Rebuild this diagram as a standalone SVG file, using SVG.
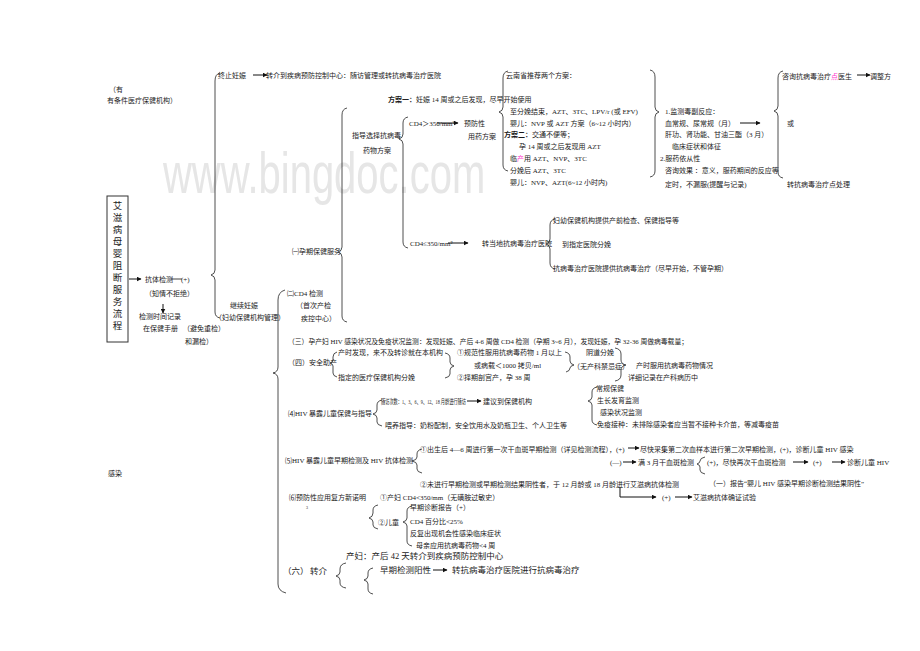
<svg xmlns="http://www.w3.org/2000/svg" width="920" height="651" viewBox="0 0 920 651">
<defs>
<marker id="ah" viewBox="0 0 10 10" refX="9" refY="5" markerWidth="5" markerHeight="5" orient="auto" markerUnits="userSpaceOnUse"><path d="M0,0 L10,5 L0,10 z" fill="#111"/></marker>
</defs>
<style>
text{font-family:"Liberation Serif","Noto Sans CJK SC",serif;font-size:7px;fill:#1a1a1a}
.b{font-weight:bold}
.m{font-size:8.5px}
.v{font-size:9.5px;text-anchor:middle}
.wm{font-family:"Liberation Sans",Arial,sans-serif;font-size:40px;fill:#e6e6e6}
.br{fill:none;stroke:#222;stroke-width:0.8}
.ar{fill:none;stroke:#111;stroke-width:1;marker-end:url(#ah)}
.pk{fill:#ff33cc}
</style>
<rect width="920" height="651" fill="#fff"/>
<text class="wm" transform="translate(163,193) scale(1,1.45)">www.bingdoc.com</text>

<g id="note-top"><text x="109" y="91.5">（有</text><text x="107" y="102.5">有条件医疗保健机构）</text></g>
<g id="note-gr"><text x="108" y="476">感染</text></g>

<g id="main-box">
<rect x="107" y="196" width="21" height="146" fill="none" stroke="#333" stroke-width="1"/>
<text class="v" x="117.5" y="208.5">艾</text><text class="v" x="117.5" y="220.5">滋</text><text class="v" x="117.5" y="232.5">病</text><text class="v" x="117.5" y="244.5">母</text><text class="v" x="117.5" y="256.5">婴</text><text class="v" x="117.5" y="268.5">阻</text><text class="v" x="117.5" y="280.5">断</text><text class="v" x="117.5" y="292.5">服</text><text class="v" x="117.5" y="304.5">务</text><text class="v" x="117.5" y="316.5">流</text><text class="v" x="117.5" y="328.5">程</text>
</g>

<g id="antibody">
<text x="145" y="281.5">抗体检测</text><text x="181" y="281.5">(+)</text>
<text x="145" y="295.5">（知情不拒绝）</text>
<text x="139" y="318.5">检测时间记录</text>
<text x="143" y="330.5">在保健手册</text><text x="183" y="330.5">（避免重检）</text>
<text x="185" y="343.5">和漏检）</text>
</g>

<g id="terminate">
<text x="218" y="77.5">终止妊娠</text>
<text x="266" y="77.5">转介到疾病预防控制中心：随访管理或转抗病毒治疗医院</text>
</g>
<g id="continue">
<text x="230" y="307.5">继续妊娠</text>
<text x="215" y="319.5">（妇幼保健机构管理）</text>
</g>

<g id="prenatal"><text x="292" y="253.5">㈠孕期保健服务</text></g>
<g id="cd4-test"><text x="287" y="295.5">㈡CD4 检测</text><text x="296" y="307.5">（首次产检</text><text x="301" y="320.5">疾控中心）</text></g>

<g id="guide"><text x="352" y="138">指导选择抗病毒</text><text x="363" y="152.5">药物方案</text></g>
<g id="plan1-head"><text x="388" y="101.5"><tspan class="b">方案一：</tspan>妊娠 14 周或之后发现，尽早开始使用</text></g>
<g id="cd4-high"><text x="409" y="125.5">CD4＞350/mm³</text><text x="464" y="125.5">预防性</text><text x="468" y="138.5">用药方案</text></g>

<g id="plans">
<text x="506" y="77.5">云南省推荐两个方案：</text>
<text x="510" y="113.5">至分娩结束，AZT、3TC、LPV/r (或 EFV)</text>
<text x="510" y="125.5">婴儿：NVP 或 AZT 方案（6~12 小时内）</text>
<text x="504" y="136.5"><tspan class="b">方案二：</tspan>交通不便等；</text>
<text x="519" y="148.5">孕 14 周或之后发现用 AZT</text>
<text x="510" y="160.5">临<tspan class="pk">产</tspan>用 AZT、NVP、3TC</text>
<text x="510" y="172.5">分娩后 AZT、3TC</text>
<text x="510" y="184.5">婴儿：NVP、AZT(6~12 小时内)</text>
</g>

<g id="monitor">
<text x="665" y="113.5">1.监测毒副反应：</text>
<text x="665" y="125.5">血常规、尿常规（月）</text>
<text x="665" y="136.5">肝功、肾功能、甘油三酯（3 月）</text>
<text x="672" y="148.5">临床症状和体征</text>
<text x="660" y="160.5">2.服药依从性</text>
<text x="665" y="172.5">咨询效果 ：意义，服药期间的反应等</text>
<text x="665" y="186.5">定时，不漏服(提醒与记录)</text>
</g>

<g id="consult">
<text x="782" y="78.5">咨询抗病毒治疗<tspan class="pk">点</tspan>医生</text>
<text x="870" y="78.5">调整方</text>
<text x="787" y="125.5">或</text>
<text x="787" y="186.5">转抗病毒治疗点处理</text>
</g>

<g id="cd4-low"><text x="410" y="245.5">CD4≤350/mm²</text><text x="482" y="245.5">转当地抗病毒治疗医院</text></g>
<g id="referral-hosp">
<text x="553" y="222.5">妇幼保健机构提供产前检查、保健指导等</text>
<text x="562" y="246.5">到指定医院分娩</text>
<text x="553" y="270.5">抗病毒治疗医院提供抗病毒治疗（尽早开始，不管孕期）</text>
</g>

<g id="sec3"><text x="288" y="343.5" textLength="400" lengthAdjust="spacingAndGlyphs">（三）孕产妇 HIV 感染状况及免疫状况监测：发现妊娠、产后 4-6 周做 CD4 检测（孕期 3~6 月），发现妊娠，孕 32-36 周做病毒载量；</text></g>

<g id="sec4">
<text x="288" y="364.5">（四）安全助产</text>
<text x="338" y="354.5">产时发现，来不及转诊就在本机构</text>
<text x="338" y="379.5">指定的医疗保健机构分娩</text>
<text x="457" y="354.5">①规范性服用抗病毒药物 1 月以上</text>
<text x="474" y="367.5">或病载＜1000 拷贝/ml</text>
<text x="457" y="379.5">②择期剖宫产，孕 38 周</text>
<text x="586" y="354.5">阴道分娩</text>
<text x="573" y="368.5">（无产科禁忌症）</text>
<text x="636" y="367.5">产时服用抗病毒药物情况</text>
<text x="628" y="379.5">详细记录在产科病历中</text>
</g>

<g id="sec-child-care">
<text x="288" y="415.5">⑷HIV 暴露儿童保健与指导</text>
<text transform="translate(381,403.5) scale(0.6,1)">随访次数：1、3、6、9、12、18 月龄进行随访</text>
<text x="483" y="403.5">建议到保健机构</text>
<text x="385" y="427.5">喂养指导：奶粉配制，安全饮用水及奶瓶卫生、个人卫生等</text>
<text x="596" y="390.5">常规保健</text>
<text x="597" y="402.5">生长发育监测</text>
<text x="600" y="414.5">感染状况监测</text>
<text x="597" y="426.5">免疫接种：未排除感染者应当暂不接种卡介苗，等减毒疫苗</text>
</g>

<g id="sec-early-test">
<text x="285" y="462.5">⑸HIV 暴露儿童早期检测及 HIV 抗体检测</text>
<text x="420" y="451.5">①出生后 4—6 周进行第一次干血斑早期检测（详见检测流程），(+)</text>
<text x="640" y="451.5">尽快采集第二次血样本进行第二次早期检测，(+)，诊断儿童 HIV 感染</text>
<text x="610" y="464.5">(—)</text>
<text x="638" y="464.5">满 3 月干血斑检测</text>
<text x="707" y="464.5">(+)，尽快再次干血斑检测</text>
<text x="813" y="464.5">(+)</text>
<text x="847" y="464.5">诊断儿童 HIV</text>
<text x="420" y="486.5">②未进行早期检测或早期检测结果阴性者，于 12 月龄或 18 月龄进行艾滋病抗体检测</text>
<text x="709" y="485.5">（一）报告“婴儿 HIV 感染早期诊断检测结果阴性”</text>
<text x="662" y="499.5">(+)</text>
<text x="693" y="499.5">艾滋病抗体确证试验</text>
</g>

<g id="sec-smz">
<text x="289" y="499.5">⑹预防性应用复方新诺明</text>
<text x="306" y="509" style="font-size:4px">3</text>
<text x="380" y="499.5">①产妇 CD4&lt;350/mm（无磺胺过敏史）</text>
<text x="378" y="524.5">②儿童</text>
<text x="410" y="509.5">早期诊断报告（+）</text>
<text x="410" y="523.5">CD4 百分比&lt;25%</text>
<text x="410" y="535.5">反复出现机会性感染临床症状</text>
<text x="416" y="547.5">母亲应用抗病毒药物&lt;4 周</text>
</g>

<g id="sec-transfer">
<text class="m" x="346" y="559">产妇：产后 42 天转介到疾病预防控制中心</text>
<text class="m" x="283" y="574">（六）</text><text class="m" x="310" y="574">转介</text>
<text class="m" x="380" y="573">早期检测阳性</text>
<text class="m" x="452" y="573">转抗病毒治疗医院进行抗病毒治疗</text>
</g>

<g id="connectors">
<path class="ar" d="M129,279 H141"/>
<line x1="171" y1="279" x2="182" y2="279" stroke="#111" stroke-width="0.8"/>
<path class="ar" d="M163,304 V313"/>
<path class="ar" d="M253,75 H267"/>
<path class="ar" d="M437,123 H458"/>
<path class="ar" d="M740,123 H760"/>
<path class="ar" d="M857,75 H870"/>
<path class="ar" d="M448,243 H468"/>
<path class="ar" d="M467,401 H481"/>
<path class="ar" d="M628,448 H639"/>
<path class="ar" d="M623,462 H636"/>
<path class="ar" d="M793,462 H808"/>
<path class="ar" d="M832,462 H845"/>
<path class="ar" d="M620,487 V497 H656"/>
<path class="ar" d="M675,497 H692"/>
<path class="ar" d="M433,570 H447"/>

<path class="br" d="M220,73 Q215,74 215,81 L215,270 Q215,274 211,275 Q215,276 215,280 L215,312 Q215,317 220,318"/>
<path class="br" d="M347,108 Q342,109 342,115 L342,247 Q342,251 338,252 Q342,253 342,257 L342,316 Q342,321 347,322"/>
<path class="br" d="M285,290 Q278,292 278,300 L278,367 Q278,372 273,373 Q278,374 278,379 L278,584 Q278,591 286,593"/>
<path class="br" d="M408,117 Q403,118 403,123 L403,134 Q403,138 399,139 Q403,140 403,144 L403,242 Q403,247 408,248"/>
<path class="br" d="M508,71 Q503,72 503,78 L503,107 Q503,111 499,112 Q503,113 503,117 L503,165 Q503,170 508,171"/>
<path class="br" d="M650,70 Q655,71 655,77 L655,107 Q655,111 659,112 Q655,113 655,117 L655,171 Q655,176 650,177"/>
<path class="br" d="M783,71 Q778,72 778,78 L778,106 Q778,110 774,111 Q778,112 778,116 L778,172 Q778,177 783,178"/>
<path class="br" d="M555,219 Q550,220 550,225 L550,239 Q550,243 546,244 Q550,245 550,249 L550,263 Q550,268 555,269"/>
<path class="br" d="M337,352 Q333,353 333,357 L333,360 Q333,362 330,363 Q333,364 333,366 L333,373 Q333,376 337,377"/>
<path class="br" d="M445,353 Q450,354 450,358 L450,362 Q450,365 454,366 Q450,367 450,370 L450,374 Q450,377 445,378"/>
<path class="br" d="M565,352 Q570,353 570,357 L570,361 Q570,364 574,365 Q570,366 570,368 Q570,371 566,372"/>
<path class="br" d="M615,348 Q621,349 621,354 L621,360 Q621,364 626,365 Q621,366 621,370 L621,375 Q621,380 615,381"/>
<path class="br" d="M382,400 Q377,401 377,405 L377,410 Q377,413 373,414 Q377,415 377,418 L377,422 Q377,425 382,426"/>
<path class="br" d="M597,387 Q592,388 592,392 L592,397 Q592,400 588,401 Q592,402 592,405 L592,420 Q592,424 597,425"/>
<path class="br" d="M422,449 Q417,450 417,454 L417,457 Q417,460 412,461 Q417,462 417,465 L417,469 Q417,472 422,473"/>
<path class="br" d="M705,457 Q700,458 700,461 Q700,463 697,464 Q700,465 700,467 L700,470 Q700,473 705,474"/>
<path class="br" d="M378,505 Q373,506 373,510 L373,513 Q373,517 369,518 Q373,519 373,522 L373,525 Q373,528 378,529"/>
<path class="br" d="M412,506 Q407,507 407,511 L407,518 Q407,521 403,522 Q407,523 407,526 L407,541 Q407,545 412,546"/>
<path class="br" d="M346,563 Q340,564 340,569 L340,572 Q340,575 336,576 Q340,577 340,580 L340,583 Q340,587 346,588"/>
<path class="br" d="M373,568 Q368,569 368,573 L368,576 Q368,579 364,580 Q368,581 368,584 L368,589 Q368,593 373,594"/>
</g>
</svg>
